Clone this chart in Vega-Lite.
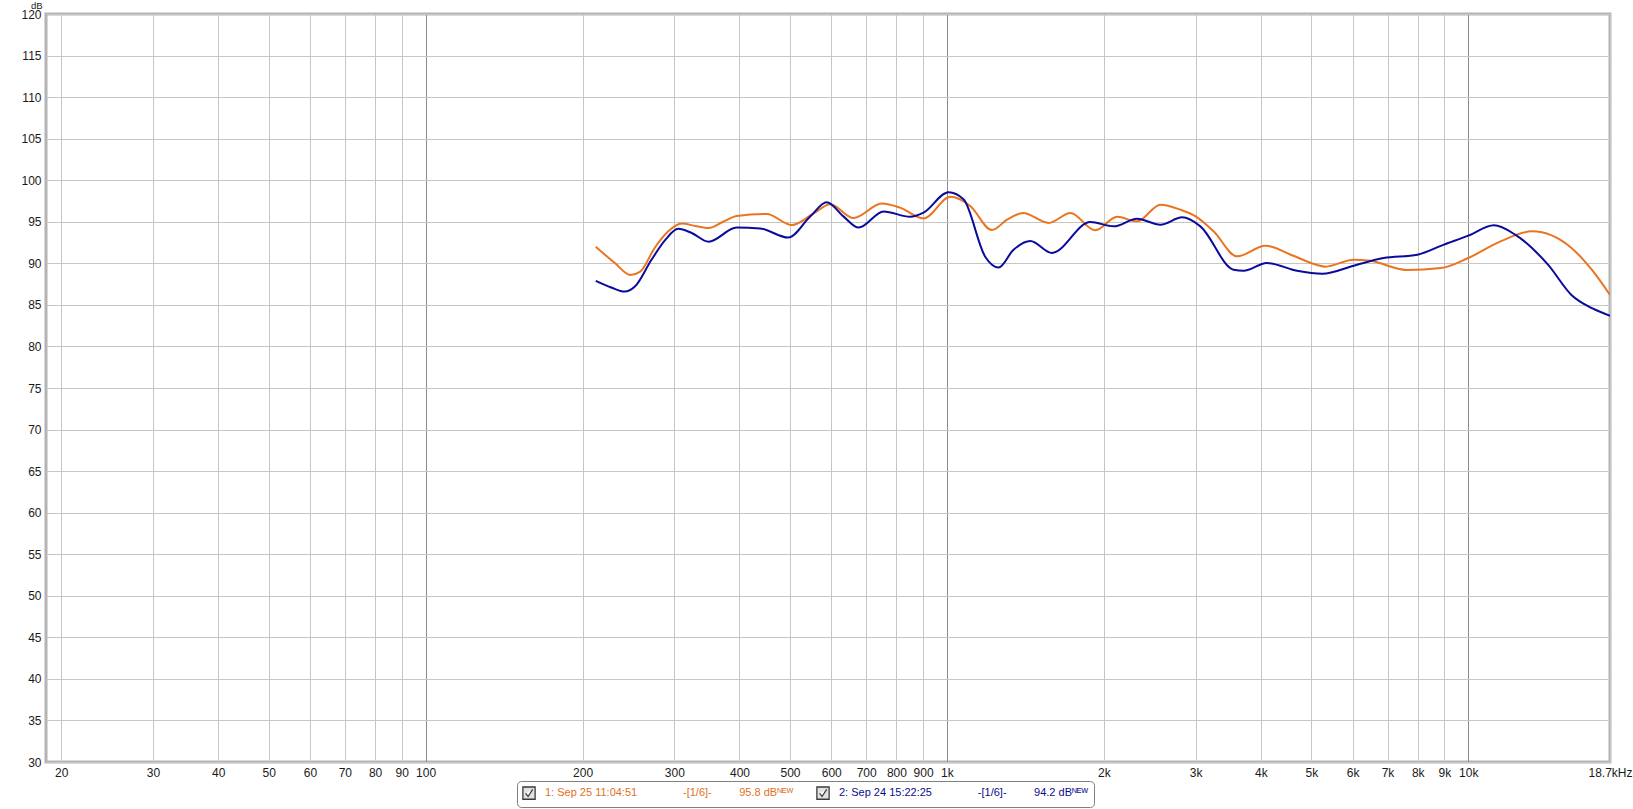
{
  "$schema": "https://vega.github.io/schema/vega-lite/v6.json",
  "width": 1564,
  "height": 748,
  "autosize": {"type": "none"},
  "padding": {"left": 46, "top": 14, "right": 23, "bottom": 47},
  "background": "white",
  "config": {
    "view": {"stroke": "#b4b4b4", "strokeWidth": 3},
    "font": "Liberation Sans"
  },
  "data": {
    "values": [
      {"run": "1", "series": "1: Sep 25 11:04:51", "f": 212, "db": 92.0},
      {"run": "1", "series": "1: Sep 25 11:04:51", "f": 231, "db": 90.0},
      {"run": "1", "series": "1: Sep 25 11:04:51", "f": 247, "db": 88.6},
      {"run": "1", "series": "1: Sep 25 11:04:51", "f": 258, "db": 89.0},
      {"run": "1", "series": "1: Sep 25 11:04:51", "f": 275, "db": 91.85},
      {"run": "1", "series": "1: Sep 25 11:04:51", "f": 292, "db": 93.85},
      {"run": "1", "series": "1: Sep 25 11:04:51", "f": 310, "db": 94.8},
      {"run": "1", "series": "1: Sep 25 11:04:51", "f": 329, "db": 94.5},
      {"run": "1", "series": "1: Sep 25 11:04:51", "f": 349, "db": 94.25},
      {"run": "1", "series": "1: Sep 25 11:04:51", "f": 372, "db": 95.0},
      {"run": "1", "series": "1: Sep 25 11:04:51", "f": 395, "db": 95.7},
      {"run": "1", "series": "1: Sep 25 11:04:51", "f": 451, "db": 95.95},
      {"run": "1", "series": "1: Sep 25 11:04:51", "f": 504, "db": 94.6},
      {"run": "1", "series": "1: Sep 25 11:04:51", "f": 555, "db": 96.0},
      {"run": "1", "series": "1: Sep 25 11:04:51", "f": 597, "db": 97.1},
      {"run": "1", "series": "1: Sep 25 11:04:51", "f": 662, "db": 95.45},
      {"run": "1", "series": "1: Sep 25 11:04:51", "f": 750, "db": 97.2},
      {"run": "1", "series": "1: Sep 25 11:04:51", "f": 813, "db": 96.7},
      {"run": "1", "series": "1: Sep 25 11:04:51", "f": 902, "db": 95.4},
      {"run": "1", "series": "1: Sep 25 11:04:51", "f": 1015, "db": 98.0},
      {"run": "1", "series": "1: Sep 25 11:04:51", "f": 1108, "db": 96.9},
      {"run": "1", "series": "1: Sep 25 11:04:51", "f": 1220, "db": 94.0},
      {"run": "1", "series": "1: Sep 25 11:04:51", "f": 1304, "db": 95.25},
      {"run": "1", "series": "1: Sep 25 11:04:51", "f": 1400, "db": 96.06},
      {"run": "1", "series": "1: Sep 25 11:04:51", "f": 1567, "db": 94.86},
      {"run": "1", "series": "1: Sep 25 11:04:51", "f": 1725, "db": 96.06},
      {"run": "1", "series": "1: Sep 25 11:04:51", "f": 1925, "db": 93.97},
      {"run": "1", "series": "1: Sep 25 11:04:51", "f": 2120, "db": 95.6},
      {"run": "1", "series": "1: Sep 25 11:04:51", "f": 2316, "db": 95.05},
      {"run": "1", "series": "1: Sep 25 11:04:51", "f": 2567, "db": 97.06},
      {"run": "1", "series": "1: Sep 25 11:04:51", "f": 2804, "db": 96.46},
      {"run": "1", "series": "1: Sep 25 11:04:51", "f": 3000, "db": 95.65},
      {"run": "1", "series": "1: Sep 25 11:04:51", "f": 3247, "db": 93.85},
      {"run": "1", "series": "1: Sep 25 11:04:51", "f": 3600, "db": 90.84},
      {"run": "1", "series": "1: Sep 25 11:04:51", "f": 4083, "db": 92.12},
      {"run": "1", "series": "1: Sep 25 11:04:51", "f": 4566, "db": 91.04},
      {"run": "1", "series": "1: Sep 25 11:04:51", "f": 5130, "db": 89.8},
      {"run": "1", "series": "1: Sep 25 11:04:51", "f": 5320, "db": 89.6},
      {"run": "1", "series": "1: Sep 25 11:04:51", "f": 6029, "db": 90.44},
      {"run": "1", "series": "1: Sep 25 11:04:51", "f": 6487, "db": 90.3},
      {"run": "1", "series": "1: Sep 25 11:04:51", "f": 7615, "db": 89.2},
      {"run": "1", "series": "1: Sep 25 11:04:51", "f": 8853, "db": 89.43},
      {"run": "1", "series": "1: Sep 25 11:04:51", "f": 10000, "db": 90.64},
      {"run": "1", "series": "1: Sep 25 11:04:51", "f": 11530, "db": 92.64},
      {"run": "1", "series": "1: Sep 25 11:04:51", "f": 13250, "db": 93.85},
      {"run": "1", "series": "1: Sep 25 11:04:51", "f": 15770, "db": 91.85},
      {"run": "1", "series": "1: Sep 25 11:04:51", "f": 17270, "db": 89.2},
      {"run": "1", "series": "1: Sep 25 11:04:51", "f": 18700, "db": 86.2},
      {"run": "2", "series": "2: Sep 24 15:22:25", "f": 212, "db": 87.9},
      {"run": "2", "series": "2: Sep 24 15:22:25", "f": 227, "db": 87.1},
      {"run": "2", "series": "2: Sep 24 15:22:25", "f": 241, "db": 86.6},
      {"run": "2", "series": "2: Sep 24 15:22:25", "f": 252, "db": 87.2},
      {"run": "2", "series": "2: Sep 24 15:22:25", "f": 271, "db": 90.4},
      {"run": "2", "series": "2: Sep 24 15:22:25", "f": 288.5, "db": 92.85},
      {"run": "2", "series": "2: Sep 24 15:22:25", "f": 305, "db": 94.15},
      {"run": "2", "series": "2: Sep 24 15:22:25", "f": 324, "db": 93.65},
      {"run": "2", "series": "2: Sep 24 15:22:25", "f": 349, "db": 92.6},
      {"run": "2", "series": "2: Sep 24 15:22:25", "f": 395, "db": 94.3},
      {"run": "2", "series": "2: Sep 24 15:22:25", "f": 438, "db": 94.2},
      {"run": "2", "series": "2: Sep 24 15:22:25", "f": 496, "db": 93.1},
      {"run": "2", "series": "2: Sep 24 15:22:25", "f": 546, "db": 95.6},
      {"run": "2", "series": "2: Sep 24 15:22:25", "f": 588, "db": 97.35},
      {"run": "2", "series": "2: Sep 24 15:22:25", "f": 633, "db": 95.65},
      {"run": "2", "series": "2: Sep 24 15:22:25", "f": 677, "db": 94.3},
      {"run": "2", "series": "2: Sep 24 15:22:25", "f": 756, "db": 96.25},
      {"run": "2", "series": "2: Sep 24 15:22:25", "f": 850, "db": 95.6},
      {"run": "2", "series": "2: Sep 24 15:22:25", "f": 902, "db": 96.1},
      {"run": "2", "series": "2: Sep 24 15:22:25", "f": 1007, "db": 98.55},
      {"run": "2", "series": "2: Sep 24 15:22:25", "f": 1076, "db": 97.7},
      {"run": "2", "series": "2: Sep 24 15:22:25", "f": 1184, "db": 90.8},
      {"run": "2", "series": "2: Sep 24 15:22:25", "f": 1256, "db": 89.5},
      {"run": "2", "series": "2: Sep 24 15:22:25", "f": 1342, "db": 91.64},
      {"run": "2", "series": "2: Sep 24 15:22:25", "f": 1445, "db": 92.7},
      {"run": "2", "series": "2: Sep 24 15:22:25", "f": 1590, "db": 91.25},
      {"run": "2", "series": "2: Sep 24 15:22:25", "f": 1884, "db": 94.98},
      {"run": "2", "series": "2: Sep 24 15:22:25", "f": 2088, "db": 94.45},
      {"run": "2", "series": "2: Sep 24 15:22:25", "f": 2316, "db": 95.37},
      {"run": "2", "series": "2: Sep 24 15:22:25", "f": 2567, "db": 94.65},
      {"run": "2", "series": "2: Sep 24 15:22:25", "f": 2826, "db": 95.53},
      {"run": "2", "series": "2: Sep 24 15:22:25", "f": 3063, "db": 94.45},
      {"run": "2", "series": "2: Sep 24 15:22:25", "f": 3546, "db": 89.23},
      {"run": "2", "series": "2: Sep 24 15:22:25", "f": 3708, "db": 89.1},
      {"run": "2", "series": "2: Sep 24 15:22:25", "f": 4107, "db": 90.04},
      {"run": "2", "series": "2: Sep 24 15:22:25", "f": 4692, "db": 89.1},
      {"run": "2", "series": "2: Sep 24 15:22:25", "f": 5250, "db": 88.75},
      {"run": "2", "series": "2: Sep 24 15:22:25", "f": 6029, "db": 89.72},
      {"run": "2", "series": "2: Sep 24 15:22:25", "f": 6880, "db": 90.64},
      {"run": "2", "series": "2: Sep 24 15:22:25", "f": 7985, "db": 91.04},
      {"run": "2", "series": "2: Sep 24 15:22:25", "f": 8980, "db": 92.25},
      {"run": "2", "series": "2: Sep 24 15:22:25", "f": 10000, "db": 93.33},
      {"run": "2", "series": "2: Sep 24 15:22:25", "f": 11200, "db": 94.57},
      {"run": "2", "series": "2: Sep 24 15:22:25", "f": 12300, "db": 93.45},
      {"run": "2", "series": "2: Sep 24 15:22:25", "f": 14220, "db": 89.84},
      {"run": "2", "series": "2: Sep 24 15:22:25", "f": 15770, "db": 86.2},
      {"run": "2", "series": "2: Sep 24 15:22:25", "f": 17270, "db": 84.6},
      {"run": "2", "series": "2: Sep 24 15:22:25", "f": 18700, "db": 83.7}
    ]
  },
  "mark": {"type": "line", "strokeWidth": 2, "interpolate": "monotone", "clip": true},
  "encoding": {
    "x": {
      "field": "f",
      "type": "quantitative",
      "scale": {"type": "log", "domain": [18.7, 18700], "nice": false},
      "axis": {
        "title": null,
        "values": [20, 30, 40, 50, 60, 70, 80, 90, 100, 200, 300, 400, 500, 600, 700, 800, 900, 1000, 2000, 3000, 4000, 5000, 6000, 7000, 8000, 9000, 10000, 18700],
        "labelExpr": "datum.value >= 18000 ? '18.7kHz' : (datum.value >= 1000 ? (datum.value / 1000) + 'k' : datum.value + '')",
        "ticks": false,
        "domain": false,
        "labelPadding": 5,
        "labelFontSize": 12,
        "labelColor": "#1a1a1a",
        "labelFlush": false,
        "labelOverlap": false,
        "labelBound": false,
        "grid": true,
        "gridWidth": 1,
        "gridOpacity": 1,
        "gridColor": {"condition": {"test": "datum.value == 100 || datum.value == 1000 || datum.value == 10000", "value": "#8c8c8c"}, "value": "#c6c6c6"}
      }
    },
    "y": {
      "field": "db",
      "type": "quantitative",
      "scale": {"domain": [30, 120], "nice": false, "zero": false},
      "axis": {
        "title": "dB",
        "titleAngle": 0,
        "titleX": -4,
        "titleY": -13.5,
        "titleAlign": "right",
        "titleBaseline": "top",
        "titleFontWeight": "normal",
        "titleFontSize": 9.5,
        "titleColor": "#1a1a1a",
        "values": [30, 35, 40, 45, 50, 55, 60, 65, 70, 75, 80, 85, 90, 95, 100, 105, 110, 115, 120],
        "ticks": false,
        "domain": false,
        "labelPadding": 5,
        "labelFontSize": 12,
        "labelColor": "#1a1a1a",
        "labelOverlap": false,
        "labelBound": false,
        "labelFlush": false,
        "grid": true,
        "gridColor": "#c6c6c6",
        "gridOpacity": 1
      }
    },
    "color": {
      "field": "run",
      "type": "nominal",
      "scale": {"domain": ["1", "2"], "range": ["#ea7420", "#0b0b9b"]},
      "legend": null
    },
    "opacity": {
      "field": "series",
      "type": "ordinal",
      "scale": {"domain": ["1: Sep 25 11:04:51", "2: Sep 24 15:22:25"], "range": [1, 1]},
      "legend": {
        "title": null,
        "orient": "none",
        "legendX": 471,
        "legendY": 767,
        "direction": "horizontal",
        "strokeColor": "#808080",
        "cornerRadius": 4,
        "fillColor": "white",
        "padding": 5,
        "symbolType": "M-1,-1H1V1H-1Z M-0.55,0.05L-0.15,0.55L0.6,-0.6",
        "symbolSize": 150,
        "symbolStrokeWidth": 1.3,
        "symbolStrokeColor": "#3a3a3a",
        "symbolFillColor": "#e2e2e2",
        "labelFontSize": 11,
        "labelOffset": 9,
        "columnPadding": 20,
        "labelLimit": 500,
        "labelExpr": "datum.value == '1: Sep 25 11:04:51' ? datum.value + '\u00a0\u00a0\u00a0\u00a0\u00a0\u00a0\u00a0\u00a0\u00a0\u00a0\u00a0\u00a0\u00a0\u00a0\u00a0-[1/6]-\u00a0\u00a0\u00a0\u00a0\u00a0\u00a0\u00a0\u00a0\u00a095.8 dB\u1d3a\u1d31\u1d42' : datum.value + '\u00a0\u00a0\u00a0\u00a0\u00a0\u00a0\u00a0\u00a0\u00a0\u00a0\u00a0\u00a0\u00a0\u00a0\u00a0-[1/6]-\u00a0\u00a0\u00a0\u00a0\u00a0\u00a0\u00a0\u00a0\u00a094.2 dB\u1d3a\u1d31\u1d42'",
        "labelColor": {"expr": "indexof(datum.value, '1:') == 0 ? '#e0701e' : '#0b0b8b'"}
      }
    }
  }
}
